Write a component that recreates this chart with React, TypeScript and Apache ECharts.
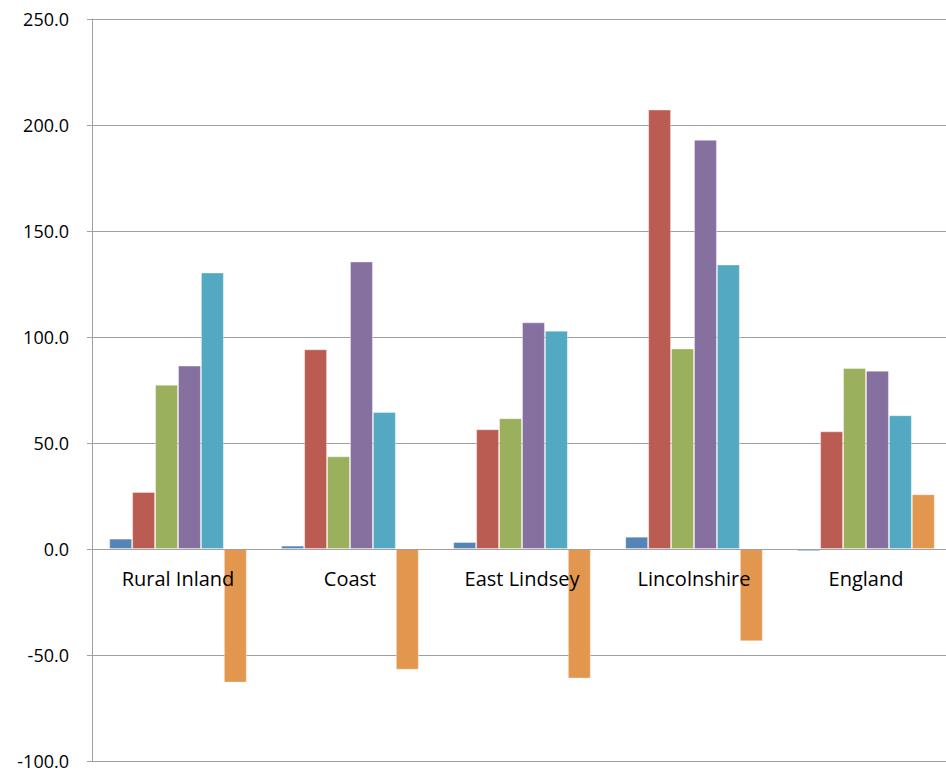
import React, { useEffect, useRef } from "react";
import * as echarts from "echarts";

const categories = ["Rural Inland", "Coast", "East Lindsey", "Lincolnshire", "England"];
const seriesNames = ["Series 1", "Series 2", "Series 3", "Series 4", "Series 5", "Series 6"];
const series1 = [4.9, 1.6, 3.3, 5.8, -1.0];
const series2 = [26.9, 94.2, 56.5, 207.3, 55.5];
const series3 = [77.5, 43.7, 61.7, 94.6, 85.4];
const series4 = [86.5, 135.6, 106.9, 193.0, 84.1];
const series5 = [130.4, 64.6, 103.0, 134.2, 63.1];
const series6 = [-63.0, -56.9, -61.1, -43.5, 25.8];
const yMin = -100;
const yMax = 250;
const yStep = 50;
const colors = ["#5585B8", "#BB5C53", "#9BB05D", "#8670A0", "#52A9C1", "#E3964E"];

export default function App() {
  const ref = useRef<HTMLDivElement>(null);
  useEffect(() => {
    if (!ref.current) return;
    const chart = echarts.init(ref.current, undefined, { renderer: "svg" });
    const data = [series1, series2, series3, series4, series5, series6];
    chart.setOption({
      animation: false,
      grid: { left: 92, top: 19, right: -6, bottom: 9, containLabel: false, outerBoundsMode: "none" },
      xAxis: {
        type: "category",
        data: categories,
        z: 10,
        offset: 0,
        axisLine: { onZero: false, lineStyle: { color: "#A0A0A0", width: 1 } },
        axisTick: { show: false },
        axisLabel: { color: "#000", fontSize: 20, fontFamily: "Open Sans", margin: 19 },
        splitLine: { show: false },
      },
      yAxis: {
        type: "value",
        min: yMin,
        max: yMax,
        interval: yStep,
        axisLine: { show: true, lineStyle: { color: "#A0A0A0", width: 1 } },
        axisTick: { show: true, length: 5, lineStyle: { color: "#A0A0A0" } },
        axisLabel: {
          color: "#000",
          fontSize: 18,
          fontFamily: "Open Sans",
          margin: 23,
          formatter: (v: number) => v.toFixed(1),
        },
        splitLine: { show: true, lineStyle: { color: "#A0A0A0", width: 1 } },
      },
      series: data.map((d, i) => ({
        name: seriesNames[i],
        type: "bar",
        data: d,
        barGap: "0%",
        barCategoryGap: "20%",
        itemStyle: { color: colors[i], borderColor: "rgba(255,255,255,0.35)", borderWidth: 1 },
      })),
    });
    const zeroY = chart.convertToPixel({ yAxisIndex: 0 }, 0) as number;
    const bottomY = chart.convertToPixel({ yAxisIndex: 0 }, yMin) as number;
    chart.setOption({ xAxis: { offset: -(bottomY - zeroY) } });
    return () => chart.dispose();
  }, []);
  return <div ref={ref} style={{ width: 946, height: 770, position: "absolute", left: 0, top: 0 }} />;
}
